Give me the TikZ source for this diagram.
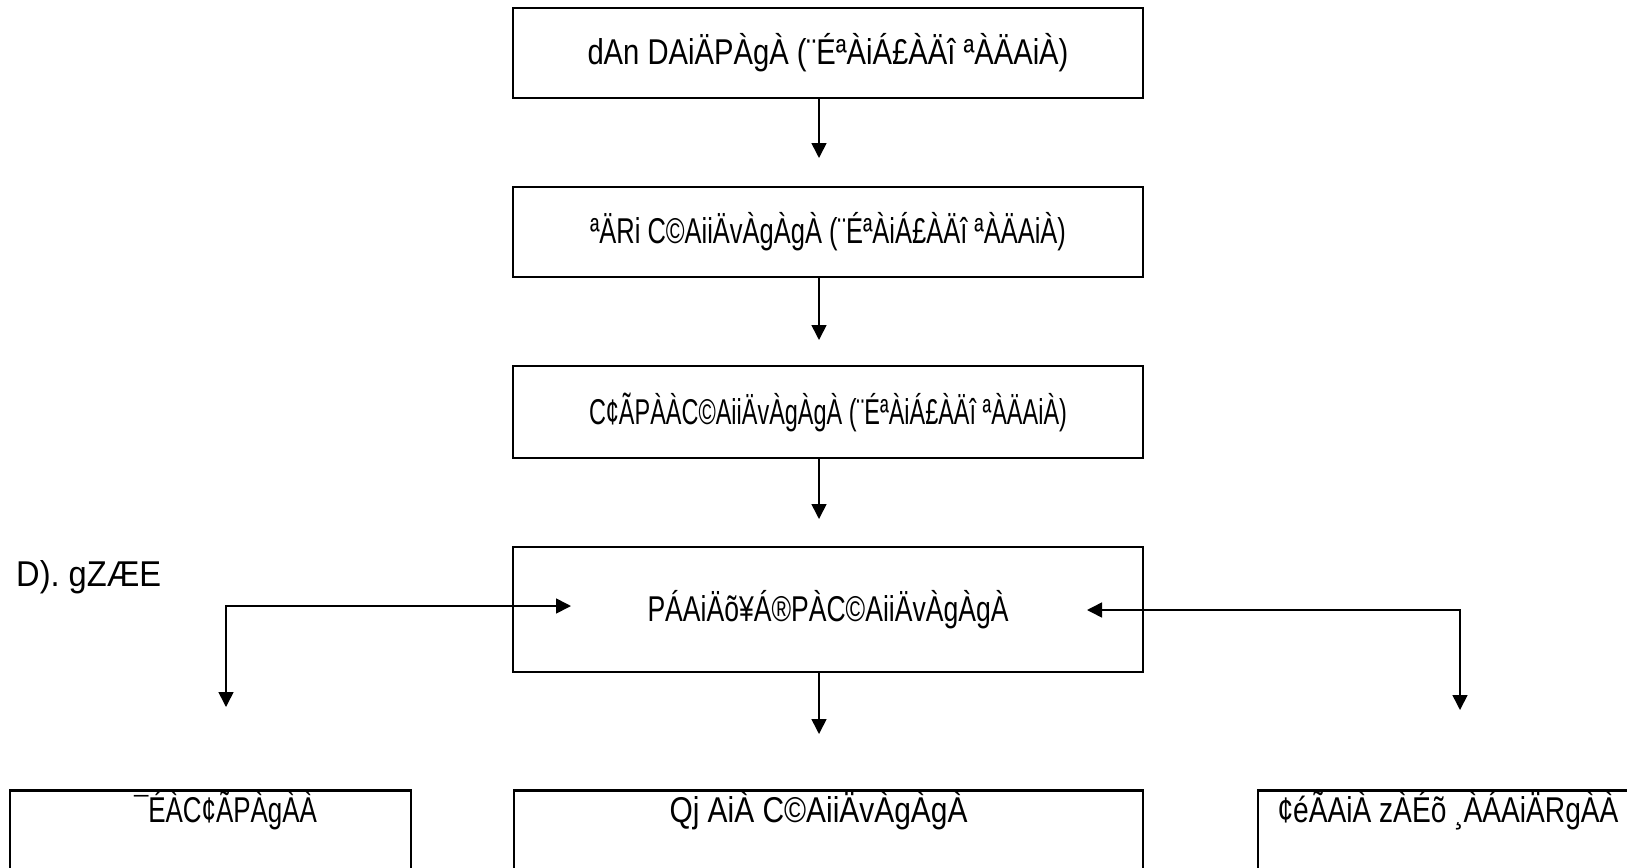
\documentclass[tikz,border=0pt]{standalone}
\usepackage{fontspec}
\setmainfont{Liberation Sans}
\usepackage{graphicx}
\usetikzlibrary{arrows.meta,calc}

%% text squeezed to the width it takes in the chart
\newcommand{\sqz}[2]{\resizebox{#1bp}{\height}{#2}}

\begin{document}
\begin{tikzpicture}[x=1bp,y=-1bp,
    box/.style={draw, line width=2.6bp, inner sep=0pt, minimum width=630bp,
      font=\fontsize{36}{40}\selectfont},
    lowbox/.style={box, anchor=north, inner ysep=6bp, text height=26bp, text depth=80bp},
    flow/.style={line width=1.6bp, -{Triangle[length=15bp,width=15bp]}},
    both/.style={line width=1.6bp, {Triangle[length=15bp,width=15bp]}-{Triangle[length=15bp,width=15bp]}}
    ]
    %%Background
    \useasboundingbox (0,0) rectangle (1627,867);
    \clip (0,0) rectangle (1627,867);

    %% Main column
    \node[box, minimum height=90bp] (top) at (828,53)
      {\raisebox{5bp}{\sqz{481}{dAn DAiÄPÀgÀ (¨ÉªÀiÁ£ÀÄî ªÀÄAiÀ)}}};
    \node[box, minimum height=90bp] (chief) at (828,232)
      {\sqz{476}{ªÄRi C©AiiÄvÀgÀgÀ (¨ÉªÀiÁ£ÀÄî ªÀÄAiÀ)}};
    \node[box, minimum height=92bp] (super) at (828,412)
      {\sqz{478}{C¢ÃPÀÀC©AiiÄvÀgÀgÀ (¨ÉªÀiÁ£ÀÄî ªÀÄAiÀ)}};
    \node[box, minimum height=125bp] (exec) at (828,609.5)
      {\sqz{361}{PÁAiÄõ¥Á®PÀC©AiiÄvÀgÀgÀ}};

    %% Bottom row
    \node[lowbox, minimum width=401bp] (left) at (210.5,789)
      {\hspace*{30bp}\sqz{183}{¯ÉÀC¢ÃPÀgÀÀ}};
    \node[lowbox, minimum width=629bp] (mid) at (828.5,789)
      {\hspace*{-20bp}\sqz{298}{Qj AiÀ C©AiiÄvÀgÀgÀ}};
    \node[lowbox, minimum width=400bp] (right) at (1458,789)
      {\hspace*{-20bp}\sqz{341}{¢éÃAiÀ zÀÉõ ¸ÀÁAiÄRgÀÀ}};

    %% Side label
    \node[anchor=west, inner sep=0pt, font=\fontsize{36}{40}\selectfont] (side) at (16,577)
      {\sqz{145}{D). gZÆE}};

    %% Arrow ends
    \coordinate (t1) at (819,158);
    \coordinate (t2) at (819,340);
    \coordinate (t3) at (819,519);
    \coordinate (t4) at (819,734);
    \coordinate (lend) at (226,707);
    \coordinate (lin) at (571,606);
    \coordinate (rin) at (1087,610);
    \coordinate (rend) at (1460,710);

    \draw[flow] (t1 |- top.south) -- (t1);
    \draw[flow] (t2 |- chief.south) -- (t2);
    \draw[flow] (t3 |- super.south) -- (t3);
    \draw[flow] (t4 |- exec.south) -- (t4);

    \draw[both] (lend) |- (lin);
    \draw[both] (rin) -| (rend);
\end{tikzpicture}
\end{document}
